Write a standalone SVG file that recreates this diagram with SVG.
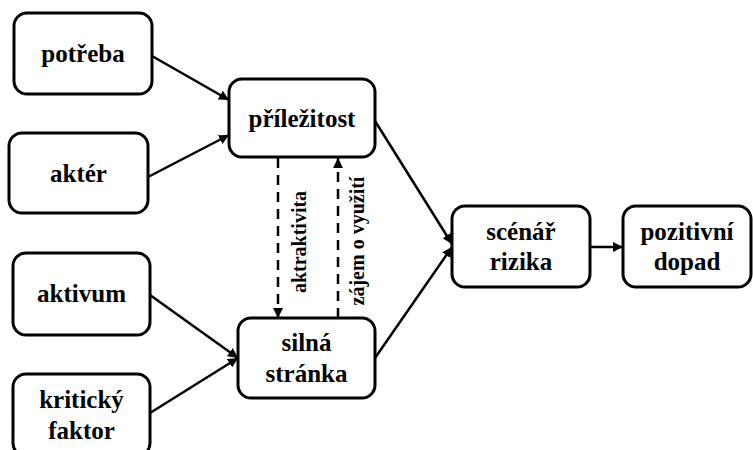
<svg xmlns="http://www.w3.org/2000/svg" width="753" height="450" viewBox="0 0 753 450">
  <style>
    .box { fill: #ffffff; stroke: #000000; stroke-width: 3; }
    .lbl { font-weight: bold; font-size: 25px; fill: #000000; text-anchor: middle; }
    .side { font-weight: bold; font-size: 20px; fill: #000000; text-anchor: middle; }
    .edge { fill: none; stroke: #000000; stroke-width: 2.5; }
    .dash { stroke-dasharray: 10 7; }
  </style>
  <defs>
    <marker id="arrow" viewBox="0 0 10 10" refX="10" refY="5" markerWidth="4" markerHeight="4" markerUnits="strokeWidth" orient="auto">
      <path d="M0,0 L10,5 L0,10 z" fill="#000000"/>
    </marker>
  </defs>
  <rect width="753" height="450" fill="#ffffff"/>

  <g id="connectors">
    <line class="edge" x1="152" y1="56" x2="229" y2="100" marker-end="url(#arrow)"/>
    <line class="edge" x1="148" y1="177" x2="229" y2="135" marker-end="url(#arrow)"/>
    <line class="edge" x1="150" y1="295" x2="238" y2="358" marker-end="url(#arrow)"/>
    <line class="edge" x1="150" y1="413" x2="238" y2="358" marker-end="url(#arrow)"/>
    <line class="edge" x1="375" y1="121" x2="452" y2="244" marker-end="url(#arrow)"/>
    <line class="edge" x1="375" y1="358" x2="452" y2="247" marker-end="url(#arrow)"/>
    <line class="edge" x1="590" y1="247" x2="623" y2="247" marker-end="url(#arrow)"/>
    <line class="edge dash" x1="278" y1="158" x2="278" y2="318" marker-end="url(#arrow)"/>
    <line class="edge dash" x1="338" y1="318" x2="338" y2="158" marker-end="url(#arrow)"/>
    <g font-family="Liberation Serif, DejaVu Serif, serif">
      <text class="side" transform="translate(306,242) rotate(-90)">aktraktivita</text>
      <text class="side" transform="translate(364,241) rotate(-90)">zájem o využití</text>
    </g>
  </g>

  <g font-family="Liberation Serif, DejaVu Serif, serif">
    <g id="potreba">
      <rect class="box" x="14" y="13" width="138" height="81" rx="13"/>
      <text class="lbl" x="83" y="62">potřeba</text>
    </g>
    <g id="akter">
      <rect class="box" x="9" y="133" width="139" height="80" rx="13"/>
      <text class="lbl" x="78.5" y="182">aktér</text>
    </g>
    <g id="prilezitost">
      <rect class="box" x="229" y="79" width="146" height="78" rx="13"/>
      <text class="lbl" x="302" y="127">příležitost</text>
    </g>
    <g id="aktivum">
      <rect class="box" x="13" y="253" width="137" height="82" rx="13"/>
      <text class="lbl" x="81.5" y="302">aktivum</text>
    </g>
    <g id="kriticky-faktor">
      <rect class="box" x="13" y="374" width="137" height="82" rx="13"/>
      <text class="lbl" x="81.5" y="408">kritický</text>
      <text class="lbl" x="81.5" y="439">faktor</text>
    </g>
    <g id="silna-stranka">
      <rect class="box" x="238" y="318" width="137" height="80" rx="13"/>
      <text class="lbl" x="306.5" y="351">silná</text>
      <text class="lbl" x="306.5" y="382">stránka</text>
    </g>
    <g id="scenar-rizika">
      <rect class="box" x="452" y="206" width="138" height="81" rx="13"/>
      <text class="lbl" x="521" y="240">scénář</text>
      <text class="lbl" x="521" y="270">rizika</text>
    </g>
    <g id="pozitivni-dopad">
      <rect class="box" x="623" y="206" width="128" height="81" rx="13"/>
      <text class="lbl" x="687" y="240">pozitivní</text>
      <text class="lbl" x="687" y="270">dopad</text>
    </g>
  </g>
</svg>
